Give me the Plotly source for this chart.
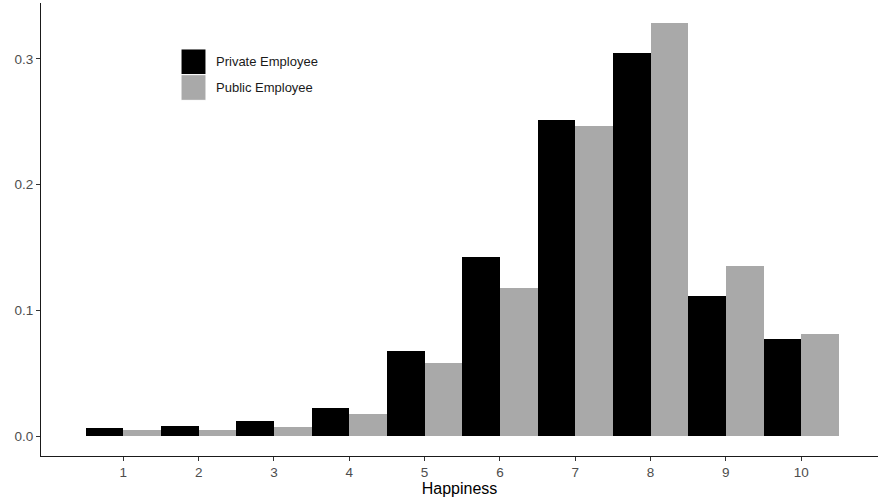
import plotly.graph_objects as go

# Share of respondents at each happiness score, by employment sector
happiness = [1, 2, 3, 4, 5, 6, 7, 8, 9, 10]
private_share = [0.0067, 0.0077, 0.0123, 0.0220, 0.0674, 0.1428, 0.2513, 0.3049, 0.1112, 0.0775]
public_share = [0.0048, 0.0048, 0.0075, 0.0178, 0.0584, 0.1181, 0.2468, 0.3283, 0.1353, 0.0812]
y_ticks = [0.0, 0.1, 0.2, 0.3]
y_tick_labels = ["0.0", "0.1", "0.2", "0.3"]

series = [
    ("Private Employee", private_share, "#000000"),
    ("Public Employee", public_share, "#A9A9A9"),
]

fig = go.Figure()
for name, values, color in series:
    fig.add_trace(go.Bar(
        x=happiness, y=values, name=name,
        marker=dict(color=color, line=dict(width=0)),
        showlegend=False,
    ))

# Legend keys drawn as large squares in the upper-left of the panel
key_x0, key_x1 = 0.1673, 0.1971
key_top, key_step = 0.8985, 0.0567
for i, (name, _, color) in enumerate(series):
    y1 = key_top - i * key_step
    y0 = y1 - key_step
    fig.add_shape(type="rect", xref="paper", yref="paper",
                  x0=key_x0, x1=key_x1, y0=y0, y1=y1,
                  fillcolor=color, line=dict(width=1, color="white"), layer="above")
    fig.add_annotation(xref="paper", yref="paper", x=0.2068, y=(y0 + y1) / 2,
                       text=name, showarrow=False, xanchor="left", yanchor="middle",
                       font=dict(family="Liberation Sans, Arial", size=13, color="#1a1a1a"))

axis_font = dict(family="Liberation Sans, Arial", size=13.5, color="#4d4d4d")

fig.update_layout(
    width=878, height=501,
    margin=dict(l=41, r=0, t=3, b=45),
    paper_bgcolor="white", plot_bgcolor="white",
    barmode="group", bargap=0, bargroupgap=0,
    showlegend=False,
    xaxis=dict(
        range=[-0.093, 11.02], tickmode="array", tickvals=happiness,
        ticktext=[str(h) for h in happiness],
        showline=True, linecolor="#1a1a1a", linewidth=1,
        ticks="outside", ticklen=4, tickcolor="#333333", tickwidth=1,
        showgrid=False, zeroline=False, tickfont=axis_font,
        title=dict(text="Happiness", font=dict(family="Liberation Sans, Arial", size=16, color="#000000"), standoff=1),
    ),
    yaxis=dict(
        range=[-0.0159, 0.3445], tickmode="array", tickvals=y_ticks, ticktext=y_tick_labels,
        showline=True, linecolor="#1a1a1a", linewidth=1,
        ticks="outside", ticklen=4, tickcolor="#333333", tickwidth=1,
        showgrid=False, zeroline=False, tickfont=axis_font,
    ),
)

fig.write_html("out.html")
